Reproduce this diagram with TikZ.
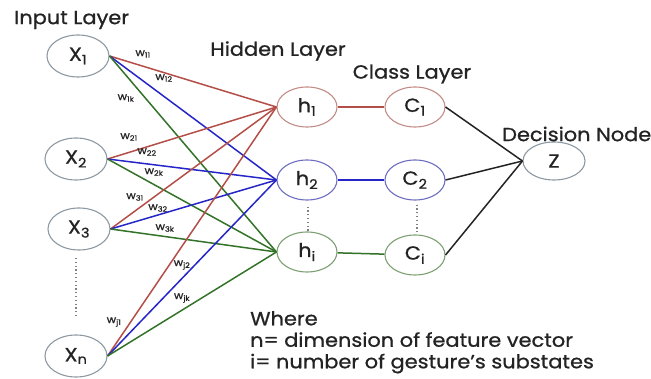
\documentclass[tikz,border=0pt]{standalone}
\usepackage{fontspec}
\setmainfont{Poppins}[FakeStretch=1.1,FakeBold=0.9]
\usetikzlibrary{shapes.geometric}
\definecolor{myred}{RGB}{180,78,72}
\definecolor{myblue}{RGB}{38,38,200}
\definecolor{mygreen}{RGB}{50,115,40}
\definecolor{xgray}{RGB}{140,152,162}
\definecolor{hred}{RGB}{195,140,135}
\definecolor{hblue}{RGB}{110,110,190}
\definecolor{hgreen}{RGB}{125,160,115}
\definecolor{ink}{RGB}{35,35,35}
\begin{document}
\begin{tikzpicture}[x=1pt,y=-1pt,
  neuron/.style={ellipse,draw,line width=1.1pt,minimum width=62pt,minimum height=42pt,inner sep=0pt,font=\fontsize{19}{19}\selectfont,text=ink},
  small/.style={neuron,minimum width=60pt,minimum height=40pt},
  title/.style={font=\fontsize{19}{19}\selectfont,text=ink,inner sep=0pt},
  wt/.style={font=\fontsize{10.5}{10.5}\selectfont,text=ink,inner sep=0pt},
  conn/.style={line width=1.5pt},
  dots/.style={line width=1.2pt,dash pattern=on 1.2pt off 2.6pt,color=gray}
]
\useasboundingbox (0,0) rectangle (651,379);
% input nodes
\node[neuron,draw=xgray] (x1) at (78,56) {X\textsubscript{1}};
\node[neuron,draw=xgray] (x2) at (76,159) {X\textsubscript{2}};
\node[neuron,draw=xgray] (x3) at (79,229) {X\textsubscript{3}};
\node[neuron,draw=xgray] (xn) at (76,356) {X\textsubscript{n}};
% hidden nodes
\node[small,draw=hred] (h1) at (307,107) {h\textsubscript{1}};
\node[small,draw=hblue] (h2) at (307,180) {h\textsubscript{2}};
\node[small,draw=hgreen] (hi) at (307,252) {h\textsubscript{i}};
% class nodes
\node[small,draw=hred] (c1) at (415,107) {C\textsubscript{1}};
\node[small,draw=hblue] (c2) at (415,180) {C\textsubscript{2}};
\node[small,draw=hgreen] (ci) at (415,255) {C\textsubscript{i}};
% decision
\node[neuron,draw=xgray,minimum height=38pt] (z) at (554,161) {Z};
% titles
\node[title,anchor=west] (tin) at (14,20) {Input Layer};
\node[title] (thid) at (278,51) {Hidden Layer};
\node[title] (tcls) at (412,74) {Class Layer};
\node[title,anchor=west] (tdec) at (502,134) {Decision Node};
\node[title,anchor=north west,align=left,font=\fontsize{19}{21.5}\selectfont] (where) at (250,311) {Where\\n= dimension of feature vector\\i= number of gesture’s substates};
% connections input -> hidden
\foreach \s in {x1,x2,x3,xn}{
  \draw[conn,myred] (\s.east) -- (h1.west);
  \draw[conn,myblue] (\s.east) -- (h2.west);
  \draw[conn,mygreen] (\s.east) -- (hi.west);
}
\draw[conn,myred] (h1) -- (c1);
\draw[conn,myblue] (h2) -- (c2);
\draw[conn,mygreen] (hi) -- (ci);
\draw[conn,ink] (c1.east) -- (z.west);
\draw[conn,ink] (c2.east) -- (z.west);
\draw[conn,ink] (ci.east) -- (z.west);
% dots
\coordinate (dx1) at (76,258); \coordinate (dx2) at (76,318);
\draw[dots] (dx1) -- (dx2);
\draw[dots] (h2.south) ++(1,6) coordinate (dh1) -- ++(0,24) coordinate (dh2);
\draw[dots] (c2.south) ++(2,4) coordinate (dc1) -- ++(0,28) coordinate (dc2);
% weight labels
\node[wt] (w11) at (143,54) {w\textsubscript{11}};
\node[wt] (w12) at (164,78) {w\textsubscript{12}};
\node[wt] (w1k) at (126,98) {w\textsubscript{1k}};
\node[wt] (w21) at (129,137) {w\textsubscript{21}};
\node[wt] (w22) at (147,152) {w\textsubscript{22}};
\node[wt] (w2k) at (154,172) {w\textsubscript{2k}};
\node[wt] (w31) at (135,197) {w\textsubscript{31}};
\node[wt] (w32) at (158,208) {w\textsubscript{32}};
\node[wt] (w3k) at (165,228) {w\textsubscript{3k}};
\node[wt] (wj2) at (182,265) {w\textsubscript{j2}};
\node[wt] (wjk) at (182,298) {w\textsubscript{jk}};
\node[wt] (wj1) at (114,322) {w\textsubscript{j1}};
\end{tikzpicture}
\end{document}
